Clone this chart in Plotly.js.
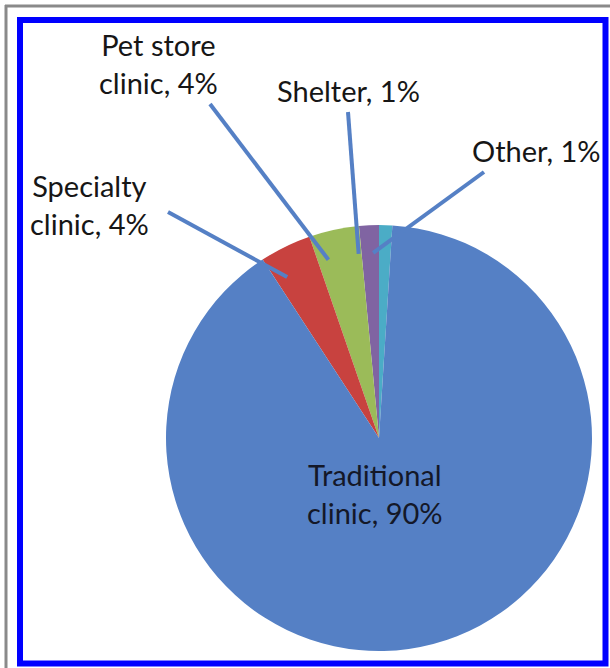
<!DOCTYPE html>
<html>
<head>
<meta charset="utf-8">
<script src="https://cdn.plot.ly/plotly-3.0.1.min.js"></script>
<style>
html,body{margin:0;padding:0;background:#fff;}
#chart{width:610px;height:668px;}
</style>
</head>
<body>
<div id="chart"></div>
<script>
// Data (counterclockwise from 12 o'clock)
const categories = ["Other", "Shelter", "Pet store clinic", "Specialty clinic", "Traditional clinic"];
const values = [1.0, 1.5, 3.8, 3.9, 89.8];
const labelTexts = ["Other, 1%", "Shelter, 1%", "Pet store<br>clinic, 4%", "Specialty<br>clinic, 4%", "Traditional<br>clinic, 90%"];
const colors = ["#4BACC6", "#8064A2", "#9BBB59", "#C8423F", "#5580C5"];

const W = 610, H = 668;
const cx = 379, cy = 438, R = 213;

// label placement (pixels) and leader-line start points
const labelPos = [[536, 150], [348, 90], [158, 64], [89, 204], [375, 493]];
const leaderStart = [[484, 172], [348, 112], [210, 104], [168, 212], null];
const leaderK = 0.87;

const total = values.reduce((a, b) => a + b, 0);
let cum = 0;
const annotations = [];
const shapes = [];

// borders
shapes.push({type: 'line', xref: 'paper', yref: 'paper', x0: 5/W, x1: 1, y0: 1 - 6/H, y1: 1 - 6/H, line: {color: '#8a8a8a', width: 3}});
shapes.push({type: 'line', xref: 'paper', yref: 'paper', x0: 6/W, x1: 6/W, y0: 0, y1: 1 - 5/H, line: {color: '#8a8a8a', width: 3}});
shapes.push({type: 'rect', xref: 'paper', yref: 'paper', x0: 20/W, x1: 605.5/W, y0: 1 - 663.5/H, y1: 1 - 20/H, line: {color: '#0000ff', width: 6}});

values.forEach((v, i) => {
  const f = (cum + v / 2) / total;
  cum += v;
  const th = f * 2 * Math.PI;
  if (leaderStart[i]) {
    const ex = cx - R * leaderK * Math.sin(th);
    const ey = cy - R * leaderK * Math.cos(th);
    shapes.push({type: 'line', xref: 'paper', yref: 'paper',
      x0: leaderStart[i][0] / W, y0: 1 - leaderStart[i][1] / H,
      x1: ex / W, y1: 1 - ey / H,
      line: {color: '#5580C5', width: 4}});
  }
  annotations.push({
    xref: 'paper', yref: 'paper',
    x: labelPos[i][0] / W, y: 1 - labelPos[i][1] / H,
    xanchor: 'center', yanchor: 'middle', align: 'center',
    text: labelTexts[i], showarrow: false,
    font: {family: 'Lato, "Open Sans", sans-serif', size: 29, color: i === 4 ? '#141828' : '#161616'}
  });
});

const data = [{
  type: 'pie',
  labels: categories,
  values: values,
  sort: false,
  direction: 'counterclockwise',
  rotation: 0,
  textinfo: 'none',
  hoverinfo: 'label+percent',
  marker: {colors: colors, line: {width: 0}},
  domain: {x: [(cx - R) / W, (cx + R) / W], y: [1 - (cy + R) / H, 1 - (cy - R) / H]},
  showlegend: false
}];

const layout = {
  width: W, height: H,
  margin: {l: 0, r: 0, t: 0, b: 0},
  paper_bgcolor: '#ffffff',
  showlegend: false,
  annotations: annotations,
  shapes: shapes
};

Plotly.newPlot('chart', data, layout, {displayModeBar: false, staticPlot: true});
</script>
</body>
</html>
